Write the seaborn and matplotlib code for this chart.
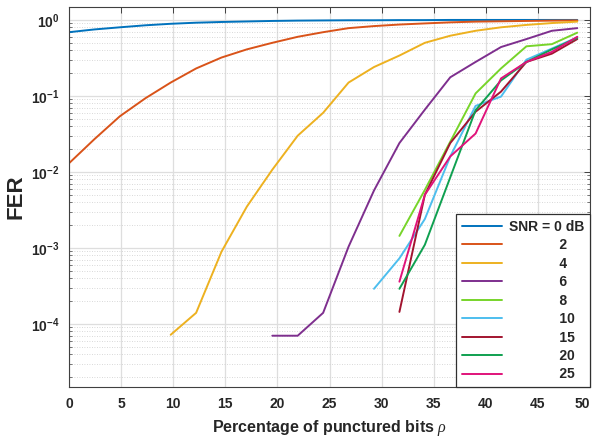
import numpy as np
import pandas as pd
import matplotlib
matplotlib.use("Agg")
import matplotlib.pyplot as plt
from matplotlib.ticker import LogLocator, FuncFormatter, NullFormatter
import seaborn as sns

nan = np.nan
rho = [0, 2.44, 4.88, 7.32, 9.76, 12.2, 14.63, 17.07, 19.51, 21.95, 24.39,
       26.83, 29.27, 31.71, 34.15, 36.59, 39.02, 41.46, 43.9, 46.34, 48.78]

x_ticks = [0, 5, 10, 15, 20, 25, 30, 35, 40, 45, 50]
snr_labels = ["SNR = 0 dB", "2", "4", "6", "8", "10", "15", "20", "25"]

fer_0 = [0.69, 0.75, 0.80, 0.85, 0.89, 0.92, 0.94, 0.955, 0.97, 0.98, 0.985,
         0.99, 0.99, 0.995, 0.995, 1.0, 1.0, 1.0, 1.0, 1.0, 1.0]
fer_2 = [0.013, 0.027, 0.054, 0.093, 0.15, 0.23, 0.32, 0.41, 0.50, 0.60, 0.69,
         0.78, 0.83, 0.87, 0.90, 0.93, 0.95, 0.96, 0.97, 0.98, 0.985]
fer_4 = [nan, nan, nan, nan, 7.2e-5, 1.4e-4, 8.9e-4, 3.5e-3, 0.0107, 0.030, 0.060,
         0.15, 0.24, 0.34, 0.50, 0.62, 0.72, 0.80, 0.86, 0.91, 0.95]
fer_6 = [nan, nan, nan, nan, nan, nan, nan, nan, 7e-5, 7e-5, 1.4e-4,
         1.04e-3, 5.7e-3, 0.024, 0.066, 0.176, 0.28, 0.44, 0.56, 0.72, 0.78]
fer_8 = [nan, nan, nan, nan, nan, nan, nan, nan, nan, nan, nan,
         nan, nan, 1.44e-3, 5.8e-3, 0.025, 0.108, 0.23, 0.45, 0.48, 0.68]
fer_10 = [nan, nan, nan, nan, nan, nan, nan, nan, nan, nan, nan,
          nan, 2.9e-4, 7.3e-4, 2.4e-3, 0.016, 0.074, 0.098, 0.30, 0.42, 0.59]
fer_15 = [nan, nan, nan, nan, nan, nan, nan, nan, nan, nan, nan,
          nan, nan, 1.44e-4, 5.0e-3, 0.024, 0.062, 0.114, 0.28, 0.36, 0.56]
fer_20 = [nan, nan, nan, nan, nan, nan, nan, nan, nan, nan, nan,
          nan, nan, 2.9e-4, 1.1e-3, 0.0085, 0.065, 0.16, 0.28, 0.41, 0.58]
fer_25 = [nan, nan, nan, nan, nan, nan, nan, nan, nan, nan, nan,
          nan, nan, 3.6e-4, 5.0e-3, 0.016, 0.032, 0.17, 0.28, 0.38, 0.60]

series = [fer_0, fer_2, fer_4, fer_6, fer_8, fer_10, fer_15, fer_20, fer_25]
colors = ["#0072BD", "#D95319", "#EDB120", "#7E2F8E", "#77D42A",
          "#4DBEEE", "#A2142F", "#0FA050", "#E0137A"]

rows = []
for lab, vals in zip(snr_labels, series):
    for x, v in zip(rho, vals):
        if not np.isnan(v):
            rows.append({"rho": x, "FER": v, "SNR": lab})
df = pd.DataFrame(rows)

sns.set_style("white")
plt.rcParams["font.family"] = ["Liberation Sans", "DejaVu Sans"]
plt.rcParams["mathtext.fontset"] = "custom"
plt.rcParams["mathtext.bf"] = "Liberation Sans:bold"
plt.rcParams["mathtext.rm"] = "Liberation Sans"
plt.rcParams["mathtext.it"] = "Liberation Serif:italic"

fig = plt.figure(figsize=(5.93, 4.40), dpi=100)
ax = fig.add_axes([69 / 593, 53 / 440, 521 / 593, 380 / 440])

sns.lineplot(data=df, x="rho", y="FER", hue="SNR", hue_order=snr_labels,
             palette=colors, errorbar=None, estimator=None, sort=False,
             linewidth=1.4, legend=False, ax=ax)

ax.set_yscale("log")
ax.set_xlim(0, 50)
ax.set_ylim(1.48e-5, 1.48)

ax.set_xticks(x_ticks)
ax.set_xticklabels([str(t) for t in x_ticks], fontweight="bold")
ax.yaxis.set_major_locator(LogLocator(base=10, numticks=10))
ax.yaxis.set_minor_locator(LogLocator(base=10, subs=np.arange(2, 10), numticks=20))
ax.yaxis.set_minor_formatter(NullFormatter())

def yfmt(v, p):
    e = int(round(np.log10(v)))
    return r"$\mathbf{10^{%d}}$" % e
ax.yaxis.set_major_formatter(FuncFormatter(yfmt))

ax.set_axisbelow(True)
ax.grid(True, which="major", color="#dedede", linewidth=0.9, linestyle="-")
ax.grid(True, which="minor", axis="y", color="#cccccc", linewidth=0.6, linestyle=(0, (1, 2)))

ax.tick_params(axis="both", which="major", direction="in", top=True, right=True,
               length=4, width=0.7, color="#404040", labelsize=10, labelcolor="#262626", pad=7)
ax.tick_params(axis="y", which="minor", direction="in", right=True, left=True,
               length=2, width=0.5, color="#404040")

for sp in ax.spines.values():
    sp.set_color("#404040")
    sp.set_linewidth(0.8)

ax.set_xlabel(r"Percentage of punctured bits $\rho$", fontsize=11.5, fontweight="bold",
              color="#262626", labelpad=5)
ax.set_ylabel("FER", fontsize=16, fontweight="bold", color="#262626", labelpad=3)

pad = " " * 13
leg_labels = [snr_labels[0]] + [pad + s for s in snr_labels[1:]]
leg = ax.legend(handles=ax.get_lines()[:len(snr_labels)], labels=leg_labels,
                loc="lower right", bbox_to_anchor=(1.0, 0.0), fancybox=False,
                frameon=True, edgecolor="#303030", framealpha=1, handlelength=2.9,
                handletextpad=0.5, labelspacing=0.32, borderpad=0.4, borderaxespad=0.0,
                prop={"weight": "bold", "size": 10})
leg.get_frame().set_linewidth(0.9)
for t in leg.get_texts():
    t.set_color("#262626")

fig.canvas.draw()
for lbl in ax.get_xticklabels():
    if lbl.get_text() == "50":
        lbl.set_horizontalalignment("right")
        lbl.set_x(50)

fig.savefig("out.png", dpi=100)
